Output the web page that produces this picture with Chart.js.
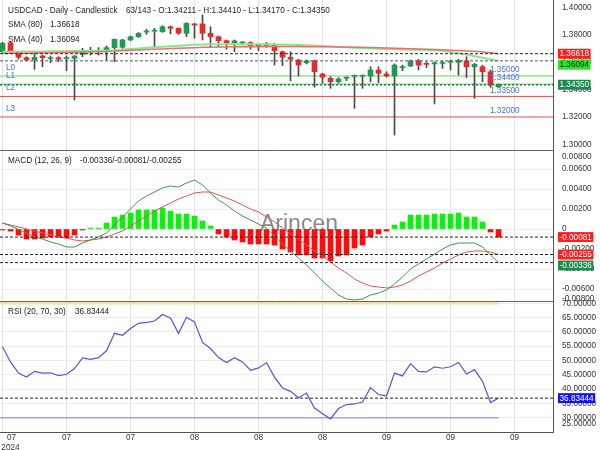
<!DOCTYPE html>
<html><head><meta charset="utf-8">
<script src="https://cdn.jsdelivr.net/npm/chart.js@4.4.1/dist/chart.umd.min.js"></script>
<style>html,body{margin:0;padding:0;background:#fff;}canvas{display:block;}</style>
</head><body>
<canvas id="c" width="600" height="450"></canvas>
<script>
// ---------------- DATA ----------------
const symbolTitle = 'USDCAD - Daily - Candlestick';
const totalBars = 143;
const tickLabels = ['07','07','07','08','08','08','09','09','09'];
const yearLabel = '2024';

const opens  = [1.3676,1.3742,1.3676,1.3633,1.3616,1.3645,1.3627,1.3633,1.3627,1.3628,
                1.3657,1.3675,1.3680,1.3676,1.3706,1.3709,1.3762,1.3786,1.3820,1.3826,
                1.3822,1.3859,1.3847,1.3811,1.3879,1.3879,1.3811,1.3786,1.3757,1.3742,
                1.3741,1.3742,1.3721,1.3720,1.3725,1.3676,1.3636,1.3616,1.3596,1.3609,
                1.3514,1.3482,1.3457,1.3482,1.3497,1.3498,1.3499,1.3543,1.3514,1.3499,
                1.3560,1.3572,1.3609,1.3586,1.3587,1.3591,1.3600,1.3599,1.3609,1.3567,
                1.3567,1.3530,1.34211];
const highs  = [1.3745,1.3749,1.3680,1.3640,1.3676,1.3652,1.3645,1.3640,1.3645,1.3648,
                1.3701,1.3709,1.3706,1.3718,1.3769,1.3767,1.3791,1.3816,1.3840,1.3847,
                1.3866,1.3864,1.3851,1.3888,1.3884,1.3944,1.3859,1.3791,1.3762,1.3762,
                1.3749,1.3749,1.3730,1.3744,1.3738,1.3682,1.3676,1.3621,1.3616,1.3616,
                1.3519,1.3494,1.3487,1.3494,1.3506,1.3506,1.3567,1.3567,1.3530,1.3587,
                1.3579,1.3616,1.3621,1.3603,1.3603,1.3609,1.3616,1.3621,1.3640,1.3592,
                1.3579,1.3543,1.34410];
const lows   = [1.3667,1.3670,1.3621,1.3610,1.3548,1.3567,1.3596,1.3603,1.3538,1.3324,
                1.3640,1.3652,1.3652,1.3616,1.3603,1.3701,1.3757,1.3781,1.3803,1.3713,
                1.3818,1.3806,1.3803,1.3786,1.3774,1.3762,1.3713,1.3713,1.3694,1.3676,
                1.3725,1.3694,1.3684,1.3708,1.3579,1.3574,1.3463,1.3499,1.3587,1.3417,
                1.3446,1.3409,1.3446,1.3465,1.3263,1.3409,1.3457,1.3450,1.3491,1.3068,
                1.3538,1.3567,1.3543,1.3560,1.3295,1.3555,1.3543,1.3506,1.3487,1.3336,
                1.3457,1.3417,1.34170];
const closes = [1.3738,1.3676,1.3636,1.3616,1.3636,1.3633,1.3630,1.3621,1.3629,1.3645,
                1.3682,1.3677,1.3682,1.3706,1.3767,1.3762,1.3786,1.3811,1.3823,1.3828,
                1.3859,1.3847,1.3811,1.3884,1.3871,1.3811,1.3786,1.3757,1.3742,1.3755,
                1.3743,1.3718,1.3719,1.3733,1.3684,1.3636,1.3621,1.3579,1.3609,1.3530,
                1.3490,1.3457,1.3477,1.3490,1.3499,1.3500,1.3543,1.3519,1.3499,1.3579,
                1.3567,1.3609,1.3579,1.3584,1.3596,1.3593,1.3602,1.3611,1.3567,1.3584,
                1.3530,1.3433,1.34350];

const sma80 = [1.3664,1.3665,1.3666,1.3666,1.3667,1.3668,1.3669,1.3670,1.3671,1.3672,
               1.3674,1.3675,1.3676,1.3678,1.3680,1.3684,1.3687,1.3689,1.3692,1.3694,
               1.3697,1.3699,1.3702,1.3704,1.3706,1.3708,1.3709,1.3710,1.3711,1.3712,
               1.3712,1.3713,1.3713,1.3714,1.3714,1.3714,1.3714,1.3714,1.3713,1.3713,
               1.3713,1.3712,1.3711,1.3710,1.3709,1.3708,1.3707,1.3705,1.3704,1.3702,
               1.3700,1.3698,1.3696,1.3694,1.3692,1.3690,1.3687,1.3685,1.3682,1.3679,
               1.3675,1.3668,1.36618];
const sma40 = [1.3676,1.3676,1.3677,1.3677,1.3678,1.3678,1.3679,1.3680,1.3680,1.3681,
               1.3682,1.3683,1.3684,1.3685,1.3687,1.3692,1.3696,1.3700,1.3705,1.3709,
               1.3713,1.3717,1.3720,1.3724,1.3727,1.3729,1.3730,1.3731,1.3731,1.3731,
               1.3731,1.3731,1.3730,1.3730,1.3729,1.3729,1.3728,1.3726,1.3724,1.3721,
               1.3718,1.3715,1.3711,1.3708,1.3705,1.3702,1.3700,1.3698,1.3696,1.3694,
               1.3692,1.3691,1.3690,1.3688,1.3686,1.3683,1.3674,1.3665,1.3656,1.3645,
               1.3633,1.3621,1.36094];

const levelNames  = ['L0','L1','L2','L3'];
const levelValues = [1.35, 1.344, 1.335, 1.32];

const macdLine = [0.0006,0.0003,-0.00005,-0.0004,-0.0008,-0.0010,-0.0013,-0.0015,-0.0018,-0.0018,
                  -0.0014,-0.0011,-0.0008,-0.0004,0.0004,0.0012,0.0020,0.0028,0.0033,0.0037,
                  0.0041,0.0043,0.0042,0.0046,0.0049,0.0044,0.0036,0.0029,0.0024,0.0018,
                  0.0013,0.0009,0.0005,0.0001,-0.0007,-0.0015,-0.0022,-0.0029,-0.0036,-0.0044,
                  -0.0052,-0.0059,-0.0066,-0.0070,-0.0071,-0.0070,-0.0066,-0.0064,-0.0061,-0.0055,
                  -0.0048,-0.0040,-0.0035,-0.0030,-0.0025,-0.0020,-0.0016,-0.0014,-0.0014,-0.0014,
                  -0.0018,-0.0026,-0.00336];
const signalLine = [0.0006,0.0004,0.0002,0.0000,-0.0002,-0.0004,-0.0006,-0.0008,-0.0009,-0.0011,
                    -0.0012,-0.0011,-0.0010,-0.0008,-0.0005,-0.0002,0.0003,0.0008,0.0013,0.0018,
                    0.0022,0.0026,0.0030,0.0033,0.0036,0.0037,0.0037,0.0034,0.0031,0.0028,
                    0.0024,0.0020,0.0017,0.0012,0.0007,0.0001,-0.0005,-0.0010,-0.0016,-0.0022,
                    -0.0027,-0.0033,-0.0039,-0.0044,-0.0050,-0.0054,-0.0057,-0.0058,-0.0059,-0.0058,
                    -0.0056,-0.0052,-0.0047,-0.0043,-0.0039,-0.0034,-0.0030,-0.0026,-0.0023,-0.0022,
                    -0.0022,-0.0023,-0.00255];
const macdHist = [-0.0001,-0.0002,-0.0006,-0.0010,-0.0010,-0.0009,-0.0008,-0.0008,-0.0009,-0.0006,
                  -0.0001,0.0001,0.0001,0.0006,0.0012,0.0014,0.0016,0.0019,0.0019,0.0019,
                  0.0021,0.0018,0.0015,0.0015,0.0013,0.0008,0.0003,-0.0005,-0.0008,-0.0011,
                  -0.0013,-0.0015,-0.0015,-0.0015,-0.0016,-0.0020,-0.0023,-0.0026,-0.0026,-0.0029,
                  -0.0029,-0.0032,-0.0027,-0.0026,-0.0019,-0.0016,-0.0008,-0.0005,-0.0002,0.0004,
                  0.0007,0.0014,0.0014,0.0014,0.0015,0.0015,0.0015,0.0016,0.0012,0.0012,
                  0.0007,-0.0003,-0.00081];

const rsi = [54.8,49.5,45.6,44.2,46.2,45.6,45.7,44.7,45.2,47.2,
             50.9,50.4,51.0,53.4,59.5,58.8,61.2,63.0,63.3,63.8,
             66.1,64.9,59.5,65.1,63.5,56.3,54.2,51.0,49.3,51.0,
             49.5,46.6,47.4,49.2,44.2,40.4,39.2,37.0,38.6,33.4,
             31.4,29.6,33.2,34.6,34.8,35.5,40.5,38.1,37.6,45.6,
             44.6,48.9,46.2,46.0,47.8,47.3,47.8,49.3,45.3,46.8,
             42.7,35.3,36.83444];
const rsiUpper = 70, rsiLower = 30;

const priceTicks = [1.30,1.32,1.34,1.36,1.38,1.40];
const macdTicks  = [-0.006,-0.004,-0.002,0,0.002,0.004,0.006];
const rsiTicks   = [30,35,40,45,50,55,60,65,70];
const macdEdgeTicks = [0.008,-0.008];
const rsiEdgeTick = 25;

// ---------------- BUILD ----------------
const N = closes.length;
const idx = closes.map((_, i) => i);
const last = N - 1;
const xMin = -0.3125, xMax = 68.8125;
const FONT = '"Liberation Sans", Arial, sans-serif';
const FS = 8.2;
const UP = '#1f9a52', DOWN = '#e32d2d', WICK = '#4a4a4a';

function hline(v, axis, color, width, dash, x1, order) {
  return { type:'line', data:[{x:xMin,y:v},{x:(x1===undefined?xMax:x1),y:v}], yAxisID:axis,
    borderColor:color, borderWidth:width, borderDash:dash||[], pointRadius:0, order:order||10 };
}
function series(arr, axis, color, width, order) {
  return { type:'line', data: idx.map(i => ({x:i, y:arr[i]})), yAxisID:axis,
    borderColor:color, borderWidth:width, pointRadius:0, tension:0, order:order||4 };
}

const datasets = [
  hline(levelValues[0], 'yP', '#a3eaa3', 1.6),
  hline(levelValues[1], 'yP', '#a3eaa3', 1.6),
  hline(levelValues[2], 'yP', '#d9534f', 1),
  hline(levelValues[3], 'yP', '#d9534f', 1),
  { type:'bar', data: idx.map(i => ({x:i, y:[lows[i], highs[i]]})), yAxisID:'yP',
    backgroundColor: WICK, barThickness:1, grouped:false, order:6 },
  { type:'bar', data: idx.map(i => ({x:i, y:[Math.min(opens[i],closes[i]), Math.max(opens[i],closes[i])]})), yAxisID:'yP',
    backgroundColor: idx.map(i => closes[i] >= opens[i] ? UP : DOWN), barThickness:5, minBarLength:1, grouped:false, order:5 },
  series(sma80, 'yP', '#e87070', 1.5, 4),
  series(sma40, 'yP', '#8fe48f', 2, 4),
  hline(sma80[last], 'yP', '#222', 1, [3,2], undefined, 3),
  hline(sma40[last], 'yP', '#555', 1, [3,2], undefined, 3),
  hline(closes[last], 'yP', '#1e7d3e', 1.5, [2,2], undefined, 3),
  { type:'bar', data: idx.map(i => ({x:i, y:macdHist[i]})), yAxisID:'yM',
    backgroundColor: idx.map(i => macdHist[i] >= 0 ? '#12ee12' : '#ff0d0d'), barThickness:5, grouped:false, order:6 },
  series(macdLine, 'yM', '#3a9a4a', 1, 4),
  series(signalLine, 'yM', '#e05555', 1, 4),
  hline(macdHist[last], 'yM', '#222', 1, [3,2], undefined, 3),
  hline(signalLine[last], 'yM', '#222', 1, [3,2], undefined, 3),
  hline(macdLine[last], 'yM', '#222', 1, [3,2], undefined, 3),
  hline(rsiUpper, 'yR', '#f3deb0', 2.5, [], last),
  hline(rsiLower, 'yR', '#b896ea', 1.5, [], last),
  series(rsi, 'yR', '#5656dc', 1.2, 4),
  hline(rsi[last], 'yR', '#222', 1, [3,2], undefined, 3),
];

const tickFont = { family: FONT, size: FS };
function yAxis(min, max, ticks, weight, stackW, fmt, gridColor) {
  return {
    type:'linear', position:'right', stack:'panes', stackWeight:stackW, weight:weight,
    min:min, max:max,
    afterBuildTicks: s => { s.ticks = ticks.map(v => ({value:v})); },
    afterFit: s => { s.width = 47; s.paddingTop = 0; s.paddingBottom = 0; },
    ticks: { callback: fmt, font: tickFont, color:'#333', padding:9, autoSkip:false },
    grid: { color: gridColor, drawTicks:false },
    border: { color:'#555', width:1 }
  };
}

const overlay = {
  id:'overlay',
  beforeDatasetsDraw(chart) {
    const ctx = chart.ctx, yM = chart.scales.yM;
    ctx.save();
    ctx.font = '23px ' + FONT;
    ctx.fillStyle = 'rgba(90,90,90,0.72)';
    ctx.textAlign = 'center'; ctx.textBaseline = 'alphabetic';
    ctx.fillText('Arincen', 299, yM.getPixelForValue(0) + 2);
    ctx.restore();
  },
  afterDraw(chart) {
    const ctx = chart.ctx, a = chart.chartArea;
    const yP = chart.scales.yP, yM = chart.scales.yM, yR = chart.scales.yR;
    ctx.save();
    ctx.strokeStyle = '#666'; ctx.lineWidth = 1;
    [yM.top, yR.top].forEach(t => {
      const y = Math.round(t) + 0.5;
      ctx.beginPath(); ctx.moveTo(a.left, y); ctx.lineTo(a.right, y); ctx.stroke();
    });
    ctx.font = FS + 'px ' + FONT;
    ctx.textBaseline = 'middle'; ctx.textAlign = 'left';
    ctx.fillStyle = '#222';
    ctx.fillText(symbolTitle, 8, yP.top + 11);
    ctx.fillText(N + '/' + totalBars + ' - O:' + opens[last].toFixed(5) + ' - H:' + highs[last].toFixed(5) +
      ' - L:' + lows[last].toFixed(5) + ' - C:' + closes[last].toFixed(5), 126, yP.top + 11);
    ctx.fillText('SMA (80)', 8, yP.top + 25); ctx.fillText(sma80[last].toFixed(5), 50, yP.top + 25);
    ctx.fillText('SMA (40)', 8, yP.top + 40); ctx.fillText(sma40[last].toFixed(5), 50, yP.top + 40);
    ctx.fillText('MACD (12, 26, 9)', 8, yM.top + 11);
    ctx.fillText(macdLine[last].toFixed(5) + '/' + macdHist[last].toFixed(5) + '/' + signalLine[last].toFixed(5), 80, yM.top + 11);
    ctx.fillText('RSI (20, 70, 30)', 8, yR.top + 11);
    ctx.fillText(rsi[last].toFixed(5), 75, yR.top + 11);
    ctx.fillStyle = '#4a72e0';
    levelValues.forEach((v, k) => {
      const py = yP.getPixelForValue(v);
      ctx.fillText(levelNames[k], 6, py - 8.5);
      ctx.fillText(v.toFixed(5), 490, py - 6);
    });
    ctx.fillStyle = '#333';
    ctx.fillText(macdEdgeTicks[0].toFixed(5), a.right + 9, yM.top + 6.5);
    ctx.fillText(macdEdgeTicks[1].toFixed(5), a.right + 9, yM.bottom - 2.5);
    ctx.fillText(rsiEdgeTick.toFixed(5), a.right + 9, yR.bottom - 8);
    function boxes(items) {
      items.sort((p, q) => p.y - q.y);
      let prevBottom = -1e9;
      items.forEach(it => {
        let top = it.y - 5;
        if (top < prevBottom + 1) top = prevBottom + 1;
        const w = ctx.measureText(it.text).width + 3;
        ctx.fillStyle = it.bg; ctx.fillRect(a.right + 5, top, w, 10);
        ctx.fillStyle = it.fg; ctx.fillText(it.text, a.right + 6.5, top + 5.3);
        prevBottom = top + 10;
      });
    }
    boxes([
      {y: yP.getPixelForValue(sma80[last]), text: sma80[last].toFixed(5), bg:'#ff1e1e', fg:'#fff'},
      {y: yP.getPixelForValue(sma40[last]), text: sma40[last].toFixed(5), bg:'#2fe02f', fg:'#0b300b'},
      {y: yP.getPixelForValue(closes[last]), text: closes[last].toFixed(5), bg:'#1b8a4c', fg:'#fff'}
    ]);
    boxes([
      {y: yM.getPixelForValue(macdHist[last]), text: macdHist[last].toFixed(5), bg:'#ff1e1e', fg:'#fff'},
      {y: yM.getPixelForValue(signalLine[last]), text: signalLine[last].toFixed(5), bg:'#ff1e1e', fg:'#fff'},
      {y: yM.getPixelForValue(macdLine[last]), text: macdLine[last].toFixed(5), bg:'#1b8a4c', fg:'#fff'}
    ]);
    boxes([
      {y: yR.getPixelForValue(rsi[last]), text: rsi[last].toFixed(5), bg:'#1414ee', fg:'#fff'}
    ]);
    ctx.restore();
  }
};

new Chart(document.getElementById('c'), {
  type: 'line',
  data: { datasets },
  options: {
    responsive:false, animation:false, devicePixelRatio:1, events:[],
    layout: { padding: 0 },
    plugins: { legend:{display:false}, tooltip:{enabled:false} },
    scales: {
      x: {
        type:'linear', min:xMin, max:xMax, offset:false, position:'bottom',
        afterBuildTicks: s => { s.ticks = tickLabels.map((_, k) => ({value: k * 8})); },
        afterFit: s => { s.height = 18; s.paddingLeft = 0; s.paddingRight = 0; },
        ticks: {
          callback: v => { const k = Math.round(v / 8); return k === 0 ? ['        ' + tickLabels[0], '       ' + yearLabel] : tickLabels[k]; },
          font: tickFont, color:'#333', padding:1, maxRotation:0, autoSkip:false
        },
        grid: { color:'#e2e2e2', drawTicks:false, offset:false },
        border: { color:'#555', width:1 }
      },
      yP: yAxis(1.29589, 1.40538, priceTicks, 1, 150, v => v.toFixed(5), 'rgba(0,0,0,0)'),
      yM: yAxis(-0.0072, 0.0079, macdTicks, 2, 151, v => v === 0 ? '0' : v.toFixed(5), '#ececec'),
      yR: yAxis(25.0, 70.8, rsiTicks, 3, 131, v => v.toFixed(5), '#ececec')
    }
  },
  plugins: [overlay]
});
</script>
</body></html>
